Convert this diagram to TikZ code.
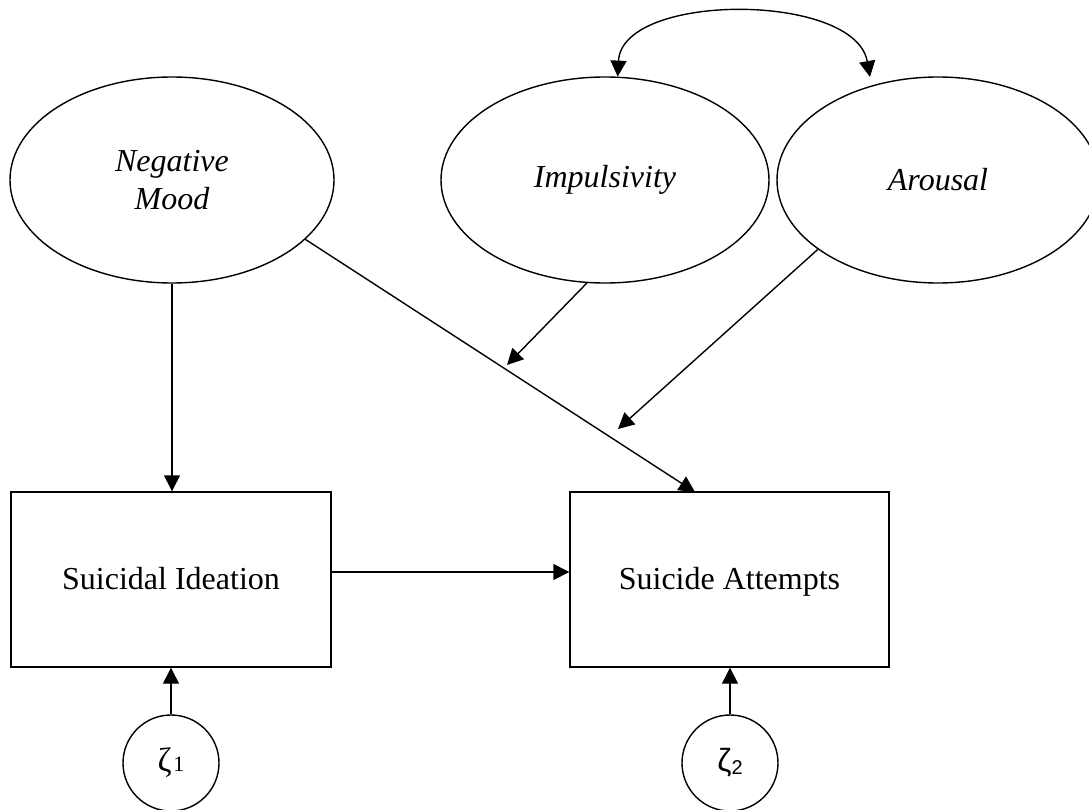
\documentclass[tikz,border=0pt]{standalone}
\usepackage{fontspec}
\setmainfont{Liberation Serif}
\newfontfamily\zsans{Liberation Sans}
\usetikzlibrary{arrows.meta,shapes.geometric}
\begin{document}
\begin{tikzpicture}[x=1pt,y=-1pt, line width=1.4pt,
  lat/.style={draw, ellipse, minimum width=324pt, minimum height=206pt, inner sep=0pt,
              font=\fontsize{32}{38}\selectfont\itshape, align=center},
  obs/.style={draw, rectangle, minimum width=320pt, minimum height=175pt, inner sep=0pt,
              text height=24pt, text depth=4pt, font=\fontsize{32}{38}\selectfont},
  err/.style={draw, circle, minimum size=96pt, inner sep=0pt},
  arr/.style={-{Triangle[length=16pt,width=16pt]}},
  biarr/.style={{Triangle[length=16pt,width=16pt]}-{Triangle[length=16pt,width=16pt]}}
  ]
\useasboundingbox (0,0) rectangle (1089,810);
\clip (0,0) rectangle (1089,810);
% latent variables
\node[lat] (nm) at (172,180) {Negative\\Mood};
\node[lat, minimum width=328pt] (imp) at (605,180) {Impulsivity};
\node[lat, minimum width=322pt] (aro) at (938,180) {Arousal};
% observed variables
\node[obs] (si) at (171,579.5) {Suicidal Ideation};
\node[obs, minimum width=319pt] (sa) at (729.5,579.5) {Suicide Attempts};
% disturbances
\node[err] (z1) at (171,763) {{\fontsize{34}{34}\selectfont ζ}\,{\fontsize{22}{22}\selectfont 1}};
\node[err] (z2) at (730,763) {\zsans{\fontsize{32}{32}\selectfont ζ}{\fontsize{20}{20}\selectfont\raisebox{-3pt}{2}}};
% free ends
\coordinate (saIn) at (695,492);
\coordinate (m1) at (507,365);
\coordinate (m2) at (618,429);
\coordinate (arTop) at (870,77);
% paths
\draw[arr] (nm.south) -- (nm.south |- si.north);
\draw[arr] (nm.-24.8) -- (saIn);
\draw[arr] (imp.-100) -- (m1);
\draw[arr] (aro.-150) -- (m2);
\draw[arr] ([yshift=7.5pt]si.east) -- ([yshift=7.5pt]sa.west);
\draw[arr] (z1) -- (si.south);
\draw[arr] (z2) -- (z2 |- sa.south);
\draw[biarr] (imp.83) .. controls (622,-8) and (855,-8) .. (arTop);
\end{tikzpicture}
\end{document}
